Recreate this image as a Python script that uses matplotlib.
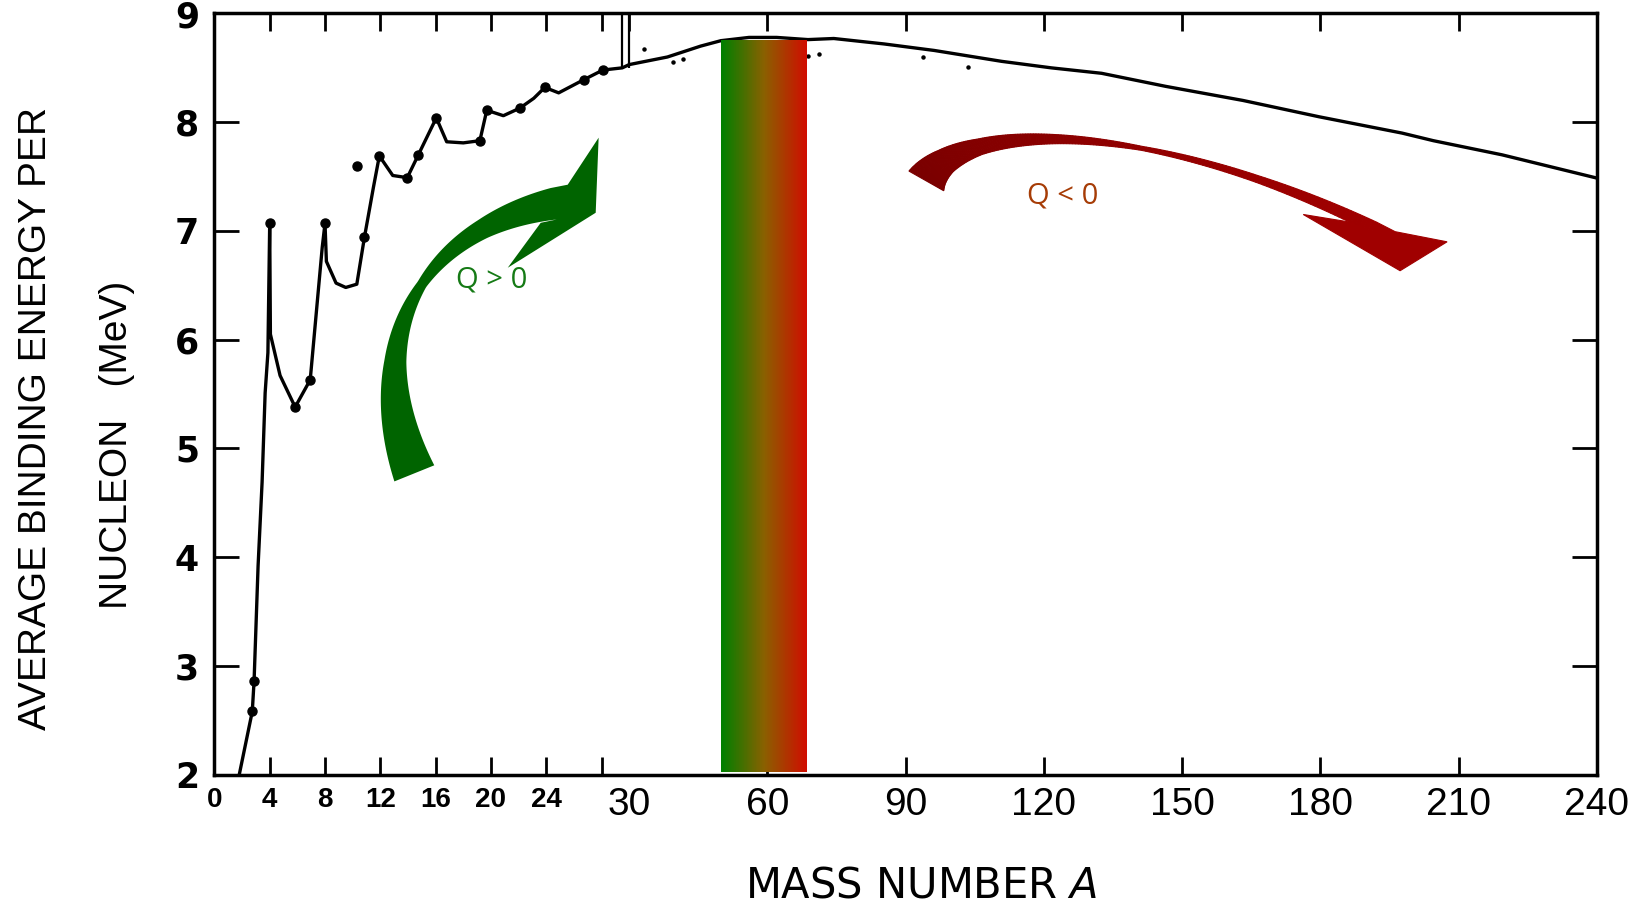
import numpy as np
import matplotlib
matplotlib.use("Agg")
import matplotlib.pyplot as plt
import matplotlib.font_manager as fm
from matplotlib.colors import LinearSegmentedColormap
from matplotlib.patches import Polygon
from matplotlib.transforms import IdentityTransform

# binding energy per nucleon (MeV)
mass = [1.8, 2.74, 2.87, 3.16, 3.45, 3.67, 3.87, 4.0, 4.05, 4.75, 5.84, 6.93,
        7.5, 7.8, 8.0, 8.1, 8.8, 9.5, 10.3, 10.85, 11.5, 11.93, 12.9, 13.95,
        14.75, 16.05, 16.8, 18.0, 19.2, 19.7, 20.9, 22.1, 23.1, 23.9, 24.9,
        25.8, 26.7, 28.1, 29.5, 30.0, 38.3, 45.5, 49.9, 56, 62, 68.8, 74.4,
        85.3, 96.2, 110.8, 121.6, 132.5, 146.4, 163.2, 179.7, 197.7, 204.5,
        219.4, 239.6]
energy = [2.0, 2.58, 2.86, 3.92, 4.69, 5.51, 5.88, 7.07, 6.05, 5.67, 5.38, 5.63,
          6.43, 6.85, 7.07, 6.72, 6.52, 6.48, 6.51, 6.94, 7.40, 7.69, 7.51, 7.49,
          7.70, 8.04, 7.82, 7.81, 7.83, 8.11, 8.06, 8.13, 8.22, 8.32, 8.27,
          8.33, 8.39, 8.48, 8.50, 8.53, 8.60, 8.70, 8.75, 8.78, 8.78, 8.76, 8.77,
          8.72, 8.66, 8.56, 8.50, 8.45, 8.33, 8.20, 8.05, 7.90, 7.83,
          7.70, 7.49]

# nuclides drawn as dots
dot_mass = [2.74, 2.87, 4.0, 5.84, 6.93, 8.0, 10.85, 11.93, 13.95, 14.75,
            16.05, 19.2, 19.7, 22.1, 23.9, 26.7, 28.1, 10.33]
dot_energy = [2.58, 2.86, 7.07, 5.38, 5.63, 7.07, 6.94, 7.69, 7.49, 7.70,
              8.04, 7.83, 8.11, 8.13, 8.32, 8.39, 8.48, 7.60]

# small scattered points of the scan
speck_mass = [33.2, 39.5, 41.6, 68.8, 71.2, 93.8, 103.5]
speck_energy = [8.67, 8.55, 8.58, 8.61, 8.63, 8.60, 8.51]

# axis break and iron band
break_mass = [29.5, 30.0]
band_mass = [50.0, 68.6]
band_energy = [2.02, 8.76]

xticks = [0, 4, 8, 12, 16, 20, 24, 28, 30, 60, 90, 120, 150, 180, 210, 240]
xlabels = ["0", "4", "8", "12", "16", "20", "24", "", "30", "60", "90", "120",
           "150", "180", "210", "240"]
yticks = [2, 3, 4, 5, 6, 7, 8, 9]

# arrows: bezier control points (mass, energy)
green_mass = [14.46, 10.55, 14.90, 24.54]
green_energy = [4.77, 6.00, 7.01, 7.25]
red_mass = [94.48, 102.09, 143.39, 191.65]
red_energy = [7.46, 8.03, 8.03, 7.03]

names = {f.name for f in fm.fontManager.ttflist}
narrow = "Liberation Sans Narrow" in names

plt.rcParams["font.family"] = ["Liberation Sans", "DejaVu Sans"]
plt.rcParams["mathtext.fontset"] = "custom"
plt.rcParams["mathtext.rm"] = "DejaVu Sans"
plt.rcParams["mathtext.it"] = "DejaVu Sans:italic"


def fwd(a):
    a = np.asarray(a, dtype=float)
    return np.where(a <= 30, a, 30 + (a - 30) / 3.0)


def inv(u):
    u = np.asarray(u, dtype=float)
    return np.where(u <= 30, u, 30 + (u - 30) * 3.0)


def band(ax, cm, ce, t_knots, widths, n=160):
    """Tapered band along a cubic bezier, in display pixels."""
    p0, p1, p2, p3 = ax.transData.transform(np.column_stack([cm, ce]))
    t = np.linspace(0, 1, n)[:, None]
    c = (1 - t) ** 3 * p0 + 3 * (1 - t) ** 2 * t * p1 + 3 * (1 - t) * t ** 2 * p2 + t ** 3 * p3
    dc = 3 * (1 - t) ** 2 * (p1 - p0) + 6 * (1 - t) * t * (p2 - p1) + 3 * t ** 2 * (p3 - p2)
    d = dc / np.hypot(dc[:, 0], dc[:, 1])[:, None]
    nrm = np.column_stack([d[:, 1], -d[:, 0]])
    w = np.interp(t[:, 0], t_knots, widths)[:, None] / 2
    return c - nrm * w, c + nrm * w, c[-1], d[-1], nrm[-1]


def head(end, d, nrm, offsets):
    return [end + a * d + b * nrm for a, b in offsets]


fig = plt.figure(figsize=(16.48, 9.05), dpi=100)
ax = fig.add_axes([214.4 / 1648, 1 - 774.5 / 905, (1597 - 214.4) / 1648, 761 / 905])
ax.set_xscale("function", functions=(fwd, inv))
ax.set_xlim(0, 240)
ax.set_ylim(2, 9)

ax.plot(mass, energy, color="black", lw=2.4, solid_joinstyle="round", zorder=3)
ax.plot(dot_mass, dot_energy, "o", color="black", ms=6.5, zorder=3)
ax.plot(speck_mass, speck_energy, "o", color="black", ms=2.2, zorder=3)
ax.vlines(break_mass, 8.5, 9, color="black", lw=1.6, zorder=3)

cmap = LinearSegmentedColormap.from_list("fe", ["#007f00", "#8a6000", "#d00d00"])
xs = np.linspace(band_mass[0], band_mass[1], 120)
ax.pcolormesh(xs, band_energy, np.linspace(0, 1, 119)[None, :], cmap=cmap,
              shading="flat", zorder=4)

ax.set_xticks(xticks)
ax.set_xticklabels(xlabels)
for lab, v in zip(ax.get_xticklabels(), xticks):
    if v < 30:
        lab.set_fontsize(20)
        lab.set_fontweight("bold")
    else:
        lab.set_fontsize(28)
xt = ax.xaxis.get_major_ticks()
xt[8].tick1line.set_visible(False)
xt[8].tick2line.set_visible(False)
ax.set_yticks(yticks)
ax.set_yticklabels([str(v) for v in yticks], family="DejaVu Sans",
                   fontweight="bold", fontsize=25)
ax.tick_params(axis="x", direction="in", length=13, width=2, top=True, pad=9)
ax.tick_params(axis="y", direction="in", length=18, width=2, right=True, pad=11)
for s in ax.spines.values():
    s.set_linewidth(2.5)

# green arrow (exothermic side)
outer, inner, e, d, nrm = band(ax, green_mass, green_energy,
                               [0, 0.3, 0.55, 0.8, 1], [43, 22, 10, 20, 32])
tip = head(e, d, nrm, [(17.4, -16.0), (56.8, -56.2), (39.5, 16.9),
                       (-57.4, 54.0), (-16.4, 16.2)])
fig.add_artist(Polygon(np.vstack([outer, tip, inner[::-1]]), closed=True,
                       transform=IdentityTransform(), fc="#006400", ec="none",
                       zorder=5))

# red arrow (endothermic side), darker at the tail
outer, inner, e, d, nrm = band(ax, red_mass, red_energy,
                               [0, 0.12, 0.25, 0.45, 0.62, 0.82, 1],
                               [40, 26, 16, 9, 4, 7, 12])
reds = LinearSegmentedColormap.from_list("rd", ["#7a0000", "#a00000"])
for i in range(len(outer) - 1):
    col = reds(i / (len(outer) - 2))
    quad = [outer[i], outer[i + 1], inner[i + 1], inner[i]]
    fig.add_artist(Polygon(quad, closed=True, transform=IdentityTransform(),
                           fc=col, ec=col, lw=0.8, zorder=5))
tip = head(e, d, nrm, [(20.6, -5.6), (71.7, -19.3), (42.2, 27.3),
                       (-69.5, 19.3), (-21.1, 4.7)])
fig.add_artist(Polygon(np.vstack([outer[-1:], tip, inner[-1:]]), closed=True,
                       transform=IdentityTransform(), fc="#a00000", ec="#a00000",
                       lw=0.8, zorder=5))

ax.text(20.08, 6.55, "Q > 0", color="#157a15", fontsize=21, family="Open Sans",
        ha="center", va="center", zorder=6)
ax.text(124.1, 7.32, "Q < 0", color="#a63c06", fontsize=21, family="Open Sans",
        ha="center", va="center", zorder=6)

if narrow:
    yfam, ysize = "Liberation Sans Narrow", 32
else:
    yfam, ysize = "Liberation Sans", 28
fig.text(0.0218, 0.538, "AVERAGE BINDING ENERGY PER", rotation=90, ha="center",
         va="center", family=yfam, fontsize=ysize)
fig.text(0.071, 0.508, "NUCLEON   (MeV)", rotation=90, ha="center",
         va="center", family=yfam, fontsize=ysize)
fig.text(0.559, 0.021, r"MASS NUMBER $\mathit{A}$", ha="center", va="center",
         family="DejaVu Sans", fontsize=30)

fig.savefig("out.png", dpi=100, facecolor="white")
